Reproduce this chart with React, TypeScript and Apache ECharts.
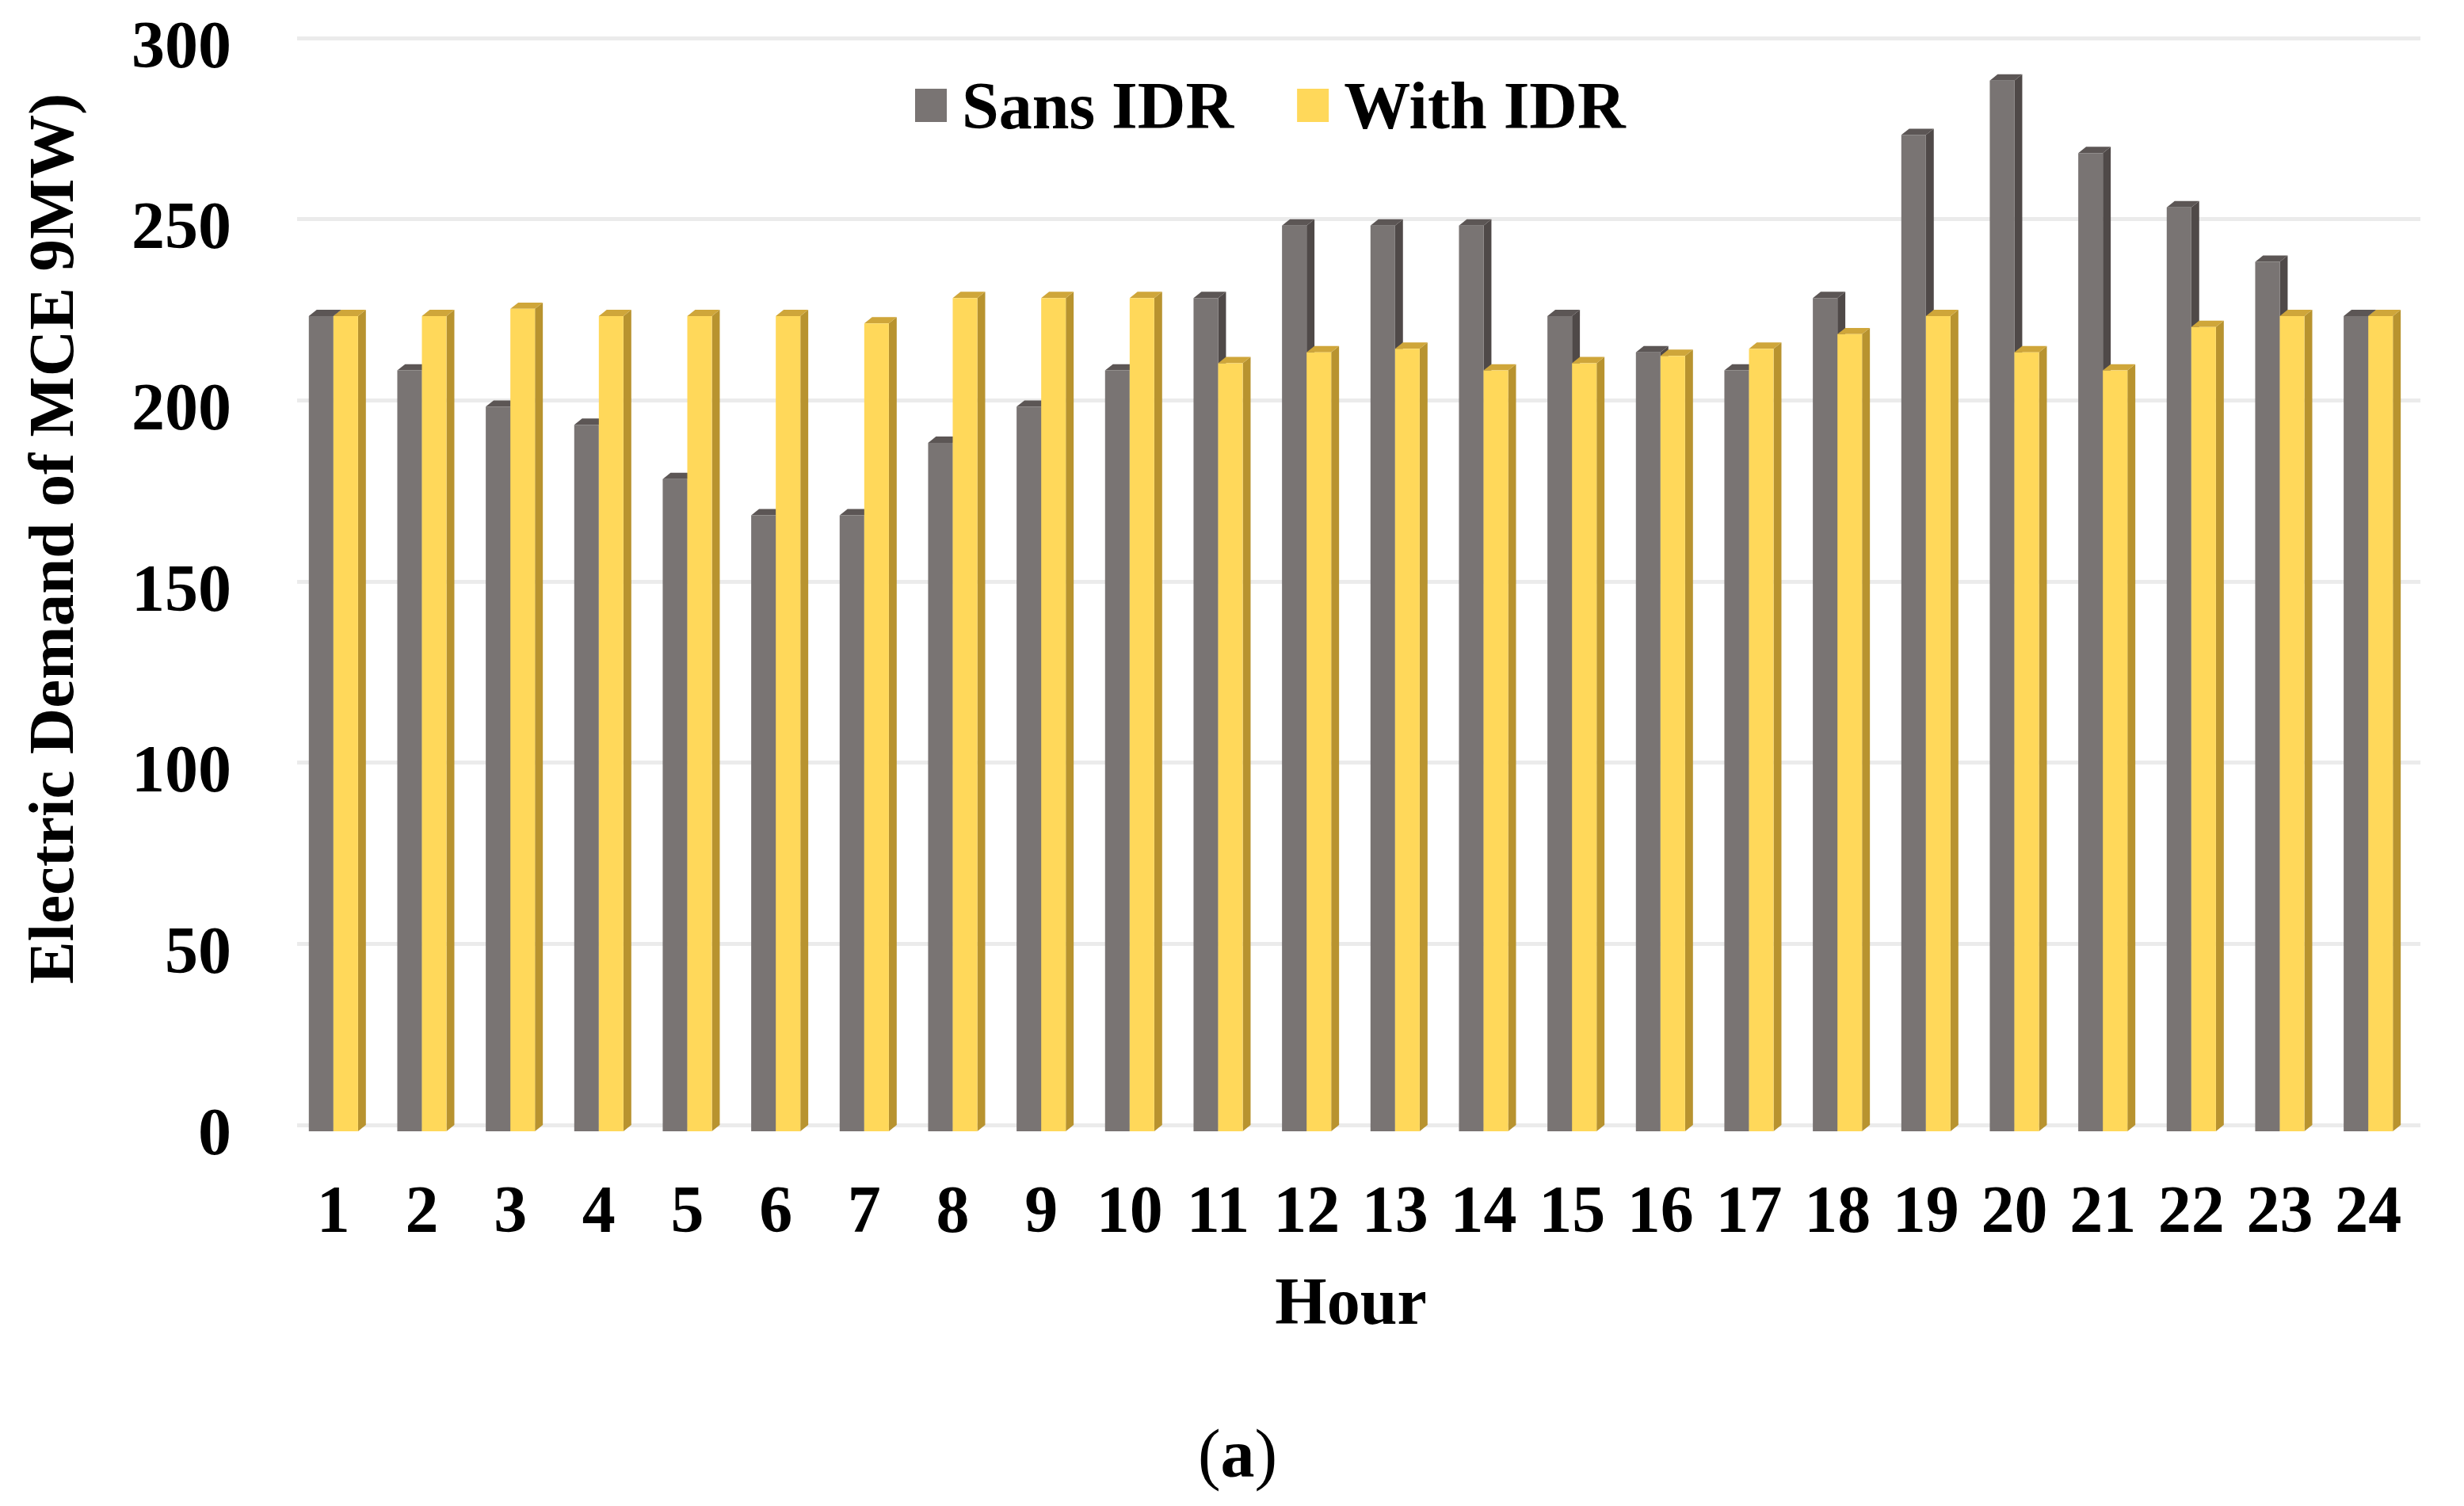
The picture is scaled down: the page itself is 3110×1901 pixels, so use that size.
import React, { useEffect, useRef } from "react";
import * as echarts from "echarts";

const hours = ["1","2","3","4","5","6","7","8","9","10","11","12","13","14","15","16","17","18","19","20","21","22","23","24"];
const sansIDR = [225,210,200,195,180,170,170,190,200,210,230,250,250,250,225,215,210,230,275,290,270,255,240,225];
const withIDR = [225,225,227,225,225,225,223,230,230,230,212,215,216,210,212,214,216,220,225,215,210,222,225,225];
const yTicks = { min: 0, max: 300, interval: 50 };
const seriesNames = ["Sans IDR", "With IDR"];

const FONT = "'Liberation Serif', 'Times New Roman', serif";

const palettes = [
  { front: "#797473", side: "#4f4948", top: "#5c5655" },
  { front: "#FFD85A", side: "#B8932F", top: "#CFA63A" },
];

function makeRender(idx: number) {
  const pal = palettes[idx];
  return (params: any, api: any) => {
    const cat = api.value(0);
    const val = api.value(1);
    const base = api.coord([cat, 0]);
    const top = api.coord([cat, val]);
    const band = api.size([1, 0])[0];
    const w = band * 0.278;
    const x0 = idx === 0 ? base[0] - w : base[0];
    const x1 = x0 + w;
    const dx = w * 0.32;
    const dy = dx * 0.8;
    return {
      type: "group",
      children: [
        {
          type: "polygon",
          shape: { points: [[x1, top[1]], [x1 + dx, top[1] - dy], [x1 + dx, base[1] - dy], [x1, base[1]]] },
          style: { fill: pal.side },
        },
        {
          type: "polygon",
          shape: { points: [[x0, top[1]], [x0 + dx, top[1] - dy], [x1 + dx, top[1] - dy], [x1, top[1]]] },
          style: { fill: pal.top },
        },
        {
          type: "rect",
          shape: { x: x0, y: top[1], width: w, height: base[1] - top[1] },
          style: { fill: pal.front },
        },
      ],
    };
  };
}

export default function App() {
  const ref = useRef<HTMLDivElement>(null);
  useEffect(() => {
    document.body.style.margin = "0";
    const chart = echarts.init(ref.current!, null, { renderer: "svg" });
    const labelStyle = { fontFamily: FONT, fontWeight: "bold" as const, fontSize: 84, color: "#000" };
    chart.setOption({
      animation: false,
      backgroundColor: "#fff",
      legend: {
        left: 1150,
        top: 86,
        icon: "rect",
        itemWidth: 40,
        itemHeight: 42,
        itemGap: 80,
        data: seriesNames,
        textStyle: { ...labelStyle, padding: [0, 0, 0, 14] },
      },
      grid: [
        { left: 365, right: 65, top: 56, bottom: 473 },
        { left: 375, right: 55, top: 48, bottom: 481 },
      ],
      xAxis: [
        {
          type: "category",
          gridIndex: 0,
          data: hours,
          axisLine: { show: false },
          axisTick: { show: false },
          axisLabel: { ...labelStyle, margin: 56 },
          name: "Hour",
          nameLocation: "middle",
          nameGap: 172,
          nameTextStyle: labelStyle,
        },
        {
          type: "category",
          gridIndex: 1,
          data: hours,
          show: false,
        },
      ],
      yAxis: [
        {
          type: "value",
          gridIndex: 0,
          ...yTicks,
          axisLine: { show: false },
          axisTick: { show: false },
          splitLine: { show: false },
          axisLabel: { ...labelStyle, margin: 73 },
        },
        {
          type: "value",
          gridIndex: 1,
          ...yTicks,
          axisLine: { show: false },
          axisTick: { show: false },
          axisLabel: { show: false },
          splitLine: { show: true, lineStyle: { color: "#ebebeb", width: 5 } },
        },
      ],
      graphic: [
        {
          type: "text",
          x: 65,
          y: 680,
          rotation: Math.PI / 2,
          style: {
            text: "Electric Demand of MCE 9MW)",
            font: `bold 81px ${FONT}`,
            fill: "#000",
            align: "center",
            verticalAlign: "middle",
          },
        },
        {
          type: "text",
          x: 1562,
          y: 1835,
          style: {
            text: "{p|(}{b|a}{p|)}",
            align: "center",
            verticalAlign: "middle",
            rich: {
              p: { fontFamily: FONT, fontSize: 86, fill: "#000" },
              b: { fontFamily: FONT, fontSize: 86, fontWeight: "bold", fill: "#000" },
            },
          },
        },
      ],
      series: [
        {
          name: seriesNames[0],
          type: "custom",
          xAxisIndex: 0,
          yAxisIndex: 0,
          renderItem: makeRender(0),
          itemStyle: { color: palettes[0].front },
          encode: { x: 0, y: 1 },
          data: sansIDR.map((v, i) => [i, v]),
          z: 2,
        },
        {
          name: seriesNames[1],
          type: "custom",
          xAxisIndex: 0,
          yAxisIndex: 0,
          renderItem: makeRender(1),
          itemStyle: { color: palettes[1].front },
          encode: { x: 0, y: 1 },
          data: withIDR.map((v, i) => [i, v]),
          z: 3,
        },
      ],
    });
    return () => chart.dispose();
  }, []);
  return <div ref={ref} style={{ width: 3110, height: 1901 }} />;
}
